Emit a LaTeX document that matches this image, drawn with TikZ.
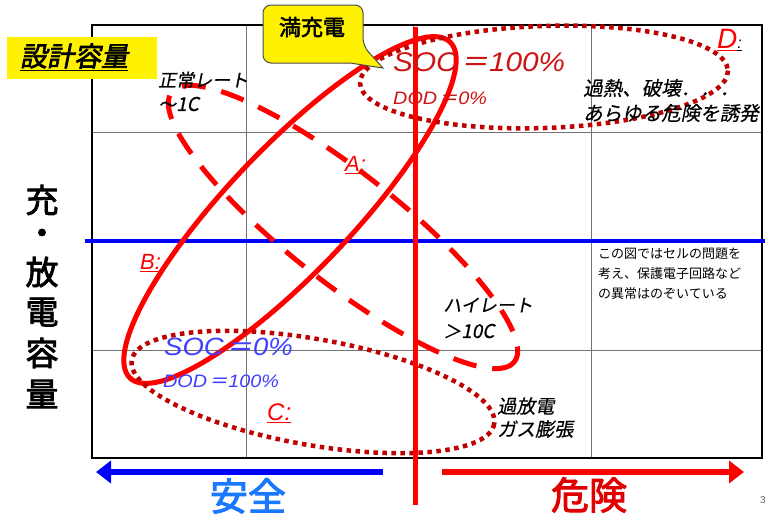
\documentclass[tikz,border=0pt]{standalone}
\usepackage{fontspec}
\setmainfont{Liberation Sans}
\newfontfamily\latwide[FakeStretch=1.1]{Liberation Sans}
\newfontfamily\jp{Noto Sans CJK JP}
\newfontfamily\jpi[FakeSlant=0.2,FakeBold=0.5]{Noto Sans CJK JP}
\newfontfamily\jpb[FakeBold=2.5]{Noto Sans CJK JP}
\newfontfamily\jpbi[FakeBold=2.5,FakeSlant=0.2]{Noto Sans CJK JP}
\usetikzlibrary{arrows.meta}
\definecolor{dotred}{RGB}{192,0,0}
\definecolor{txtred}{RGB}{205,20,20}
\definecolor{txtblue}{RGB}{64,64,255}
\definecolor{safeblue}{RGB}{25,120,255}
\definecolor{dangerred}{RGB}{225,0,0}
\definecolor{gridgray}{RGB}{115,115,115}
\newcommand\FS[1]{\fontsize{#1}{#1}\selectfont}
\newcommand\Jeq{\kern0.12em{\jpi ＝}\kern0.05em}
\begin{document}
\begin{tikzpicture}[x=1pt,y=-1pt,
  gridline/.style={draw=gridgray,line width=1pt},
  frameline/.style={draw=black,line width=2pt},
  solidell/.style={draw=red,line width=5pt},
  dashell/.style={draw=red,line width=5pt,dash pattern=on 24pt off 16pt},
  dotell/.style={draw=dotred,line width=4.5pt,dash pattern=on 4.5pt off 4.5pt},
  lbl/.style={inner sep=0pt,anchor=west},
  cjklbl/.style={lbl,font=\jpi\FS{18}},
  axischar/.style={inner sep=0pt,font=\jpb\FS{33}},
  arrowline/.style={line width=6pt,-{Triangle[length=15pt,width=22pt]}},
  yellowbox/.style={fill=yellow,draw=black!70,line width=1pt}
]
\useasboundingbox[fill=white] (0,0) rectangle (765,520);

% grid
\draw[gridline] (246,25) -- (246,458) (413,25) -- (413,458) (591,25) -- (591,458);
\draw[gridline] (92,132) -- (762,132) (92,350) -- (762,350);
\draw[frameline] (92,25) rectangle (762,458);

% blue horizontal line
\draw[blue,line width=3.5pt] (85,241) -- (765,241);

% ellipses
\draw[dashell, rotate around={-38.2:(343,227)}] (343,227) ellipse [x radius=218, y radius=55];
\draw[solidell, rotate around={46.4:(290,210)}] (290,210) ellipse [x radius=232, y radius=62];
\draw[dotell, rotate around={2:(544,77)}] (544,77) ellipse [x radius=184, y radius=51];
\draw[dotell, rotate around={-10:(313,392)}] (313,392) ellipse [x radius=184, y radius=53];

% red vertical line
\draw[red,line width=5pt] (415,27) -- (415,505);

% bottom arrows
\coordinate (bs) at (383,472);
\coordinate (be) at (96,472);
\coordinate (rs) at (442,472);
\coordinate (re) at (744,472);
\draw[arrowline,draw=blue,fill=blue] (bs) -- (be);
\draw[arrowline,draw=red,fill=red] (rs) -- (re);
\node[inner sep=0pt,text=safeblue,font=\jpb\FS{38}] (safe) at (248,496) {安全};
\node[inner sep=0pt,text=dangerred,font=\jpb\FS{38}] (danger) at (589,495) {危険};
\node[lbl,text=black!60,font=\FS{10}] (pg) at (760,500) {3};

% vertical axis label
\node[axischar] (ax1) at (42,200) {充};
\node[axischar] (ax2) at (42,237) {・};
\node[axischar] (ax3) at (42,272) {放};
\node[axischar] (ax4) at (42,312) {電};
\node[axischar] (ax5) at (42,353) {容};
\node[axischar] (ax6) at (42,394) {量};

% labels
\node[cjklbl] (normal1) at (158,80) {正常レート};
\node[cjklbl] (normal2) at (158,104) {～{\itshape\FS{19}1C}};
\node[lbl,text=txtred,font=\latwide\itshape\FS{27}] (soc100) at (393,62) {SOC\Jeq 100\%};
\node[lbl,text=txtred,font=\latwide\itshape\FS{18}] (dod0) at (393,98) {DOD\Jeq 0\%};
\node[lbl,font=\itshape\FS{28}] (dlbl) at (717,40) {\textcolor{red}{\underline{D}}\textcolor{black}{\underline{\FS{16}:}}};
\node[lbl,font=\jpi\FS{19.5}] (d1) at (583,88) {過熱、破壊．．．};
\node[lbl,font=\jpi\FS{19.5}] (d2) at (583,113) {あらゆる危険を誘発};
\node[lbl,text=red,font=\itshape\FS{22}] (albl) at (345,165) {\underline{A:}};
\node[lbl,text=red,font=\itshape\FS{22}] (blbl) at (140,263) {\underline{B:}};
\node[lbl,text=red,font=\itshape\FS{24}] (clbl) at (267,413) {\underline{C:}};
\node[lbl,text=txtblue,font=\latwide\itshape\FS{25}] (soc0) at (164,347) {SOC\Jeq 0\%};
\node[lbl,text=txtblue,font=\latwide\itshape\FS{18}] (dod100) at (163,381) {DOD\Jeq 100\%};
\node[cjklbl] (high1) at (443,305) {ハイレート};
\node[cjklbl] (high2) at (443,331) {＞{\itshape\FS{19}10C}};
\node[lbl,font=\jpi\FS{19}] (over1) at (497,406) {過放電};
\node[lbl,font=\jpi\FS{19}] (over2) at (497,429) {ガス膨張};
\node[lbl,font=\jp\FS{13},align=left] (note) at (598,274)
  {この図ではセルの問題を\\[7pt]考え、保護電子回路など\\[7pt]の異常はのぞいている};

% yellow title box
\node[fill=yellow,minimum width=150pt,minimum height=42pt,inner sep=0pt] (title) at (82,58) {};
\node[inner sep=0pt,font=\jpbi\FS{27}] (titletext) at (74,57) {\underline{設計容量}};

% callout
\draw[yellowbox,rounded corners=8pt] (263,5) -- (363,5) -- (363,46) [sharp corners] -- (383,68) -- (350,63) [rounded corners=8pt] -- (263,63) -- cycle;
\node[inner sep=0pt,font=\jpb\FS{22}] (full) at (312,27) {満充電};
\end{tikzpicture}
\end{document}
